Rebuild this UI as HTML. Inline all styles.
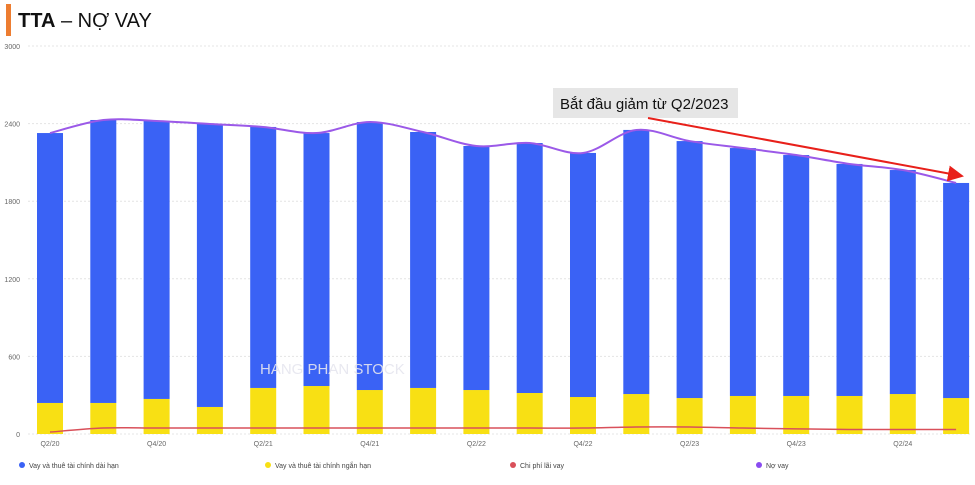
<!DOCTYPE html>
<html><head><meta charset="utf-8"><style>
body{margin:0;width:975px;height:485px;background:#fff;overflow:hidden;font-family:"Liberation Sans",sans-serif;}
svg{position:absolute;left:0;top:0}
</style></head><body>
<svg id="c" width="975" height="485">
<rect x="6" y="4" width="5" height="32" fill="#ed7d31"/>
<text x="18" y="27" font-size="20" fill="#111"><tspan font-weight="bold">TTA</tspan> – NỢ VAY</text>
<g id="grid"></g><g id="bars"></g><g id="lines"></g>
<rect x="553" y="88" width="185" height="30" fill="#e6e6e6"/>
<text x="560" y="109" font-size="15" fill="#111">Bắt đầu giảm từ Q2/2023</text>
<defs><marker id="ah" markerWidth="8" markerHeight="8" refX="7" refY="4" orient="auto"><path d="M0,0 L8,4 L0,8 z" fill="#e8201a"/></marker></defs>
<line x1="648" y1="118" x2="962" y2="176" stroke="#e8201a" stroke-width="2" marker-end="url(#ah)"/>
<g id="legend"></g>
</svg>
<script>
const categories=["Q2/20","Q3/20","Q4/20","Q1/21","Q2/21","Q3/21","Q4/21","Q1/22","Q2/22","Q3/22","Q4/22","Q1/23","Q2/23","Q3/23","Q4/23","Q1/24","Q2/24","Q3/24"];
const shortTerm=[240,240,271,209,356,371,340,356,340,317,286,309,278,294,294,294,309,278];
const totalDebt=[2327,2428,2420,2397,2374,2327,2412,2335,2227,2250,2173,2351,2265,2211,2157,2088,2041,1941];
const interest=[15,46,46,46,46,46,46,46,46,46,46,54,54,46,40,35,35,35];
const yTicks=[0,600,1200,1800,2400,3000];
const longTerm=totalDebt.map((t,i)=>t-shortTerm[i]);
const NS="http://www.w3.org/2000/svg";
const y0=434,pxPer=388/3000,x0=50,step=53.3,bw=26;
const Y=v=>y0-v*pxPer, X=i=>x0+i*step;
function mk(t,a,p){const e=document.createElementNS(NS,t);for(const k in a)e.setAttribute(k,a[k]);p.appendChild(e);return e;}
const grid=document.getElementById('grid'),bars=document.getElementById('bars'),lines=document.getElementById('lines'),leg=document.getElementById('legend');
yTicks.forEach(v=>{
 const l=mk('line',{x1:28,x2:970,y1:Y(v),y2:Y(v),stroke:'#e4e4e4','stroke-dasharray':'2,2'},grid);
 
 
 const t=mk('text',{x:20,y:Y(v)+3,'font-size':7,fill:'#666','text-anchor':'end'},grid);t.textContent=v;
 
 
});
categories.forEach((c,i)=>{
 const y1=mk('rect',{x:X(i)-bw/2,y:Y(shortTerm[i]),width:bw,height:shortTerm[i]*pxPer,fill:'#f8e014'},bars);
 
 
 const b=mk('rect',{x:X(i)-bw/2,y:Y(totalDebt[i]),width:bw,height:longTerm[i]*pxPer,fill:'#3a62f5'},bars);
 
 
 if(i%2===0){const t=mk('text',{x:X(i),y:446,'font-size':7,fill:'#666','text-anchor':'middle'},bars);t.textContent=c;
 
 }
});
function smooth(vals){const p=vals.map((v,i)=>[X(i),Y(v)]);let d=`M${p[0][0]},${p[0][1]}`;
 for(let i=0;i<p.length-1;i++){const a=p[Math.max(i-1,0)],b=p[i],c=p[i+1],e=p[Math.min(i+2,p.length-1)];
 d+=` C${b[0]+(c[0]-a[0])/6},${b[1]+(c[1]-a[1])/6} ${c[0]-(e[0]-b[0])/6},${c[1]-(e[1]-b[1])/6} ${c[0]},${c[1]}`;}return d;}
const pl=mk('path',{d:smooth(totalDebt),fill:'none',stroke:'#9b59e8','stroke-width':2},lines);


const il=mk('path',{d:smooth(interest),fill:'none',stroke:'#d9505a','stroke-width':1.5},lines);


const wm=mk('text',{x:260,y:374,'font-size':15,fill:'#e6e6ee','fill-opacity':0.9},lines);wm.textContent='HANG PHAN STOCK';


[["Vay và thuê tài chính dài hạn","#3a62f5",22],["Vay và thuê tài chính ngắn hạn","#f8e014",268],["Chi phí lãi vay","#d9505a",513],["Nợ vay","#8a4cf0",759]].forEach(([n,c,x])=>{
 const g=mk('g',{},leg);
 
 
 mk('circle',{cx:x,cy:465,r:3,fill:c},g);
 const t=mk('text',{x:x+7,y:468,'font-size':7,fill:'#444'},g);t.textContent=n;
});
</script>
</body></html>
